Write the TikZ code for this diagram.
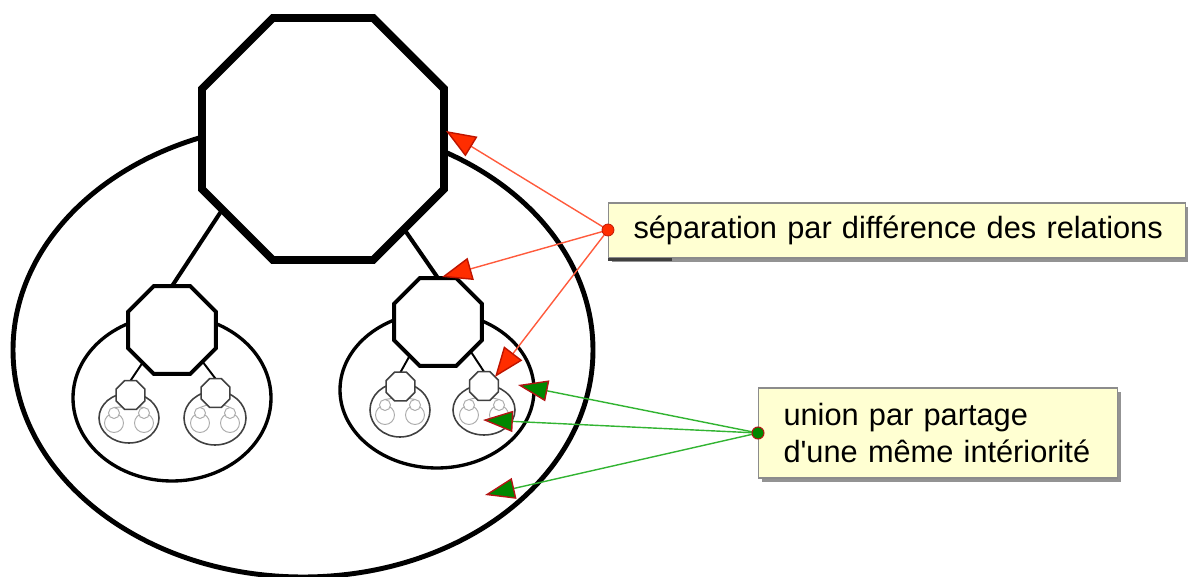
\documentclass[tikz,border=0pt]{standalone}
\usepackage{fontspec}
\setmainfont{Liberation Sans}
\usetikzlibrary{shapes.geometric,arrows.meta,shadows}
\newcommand\PX{0.02cm}
\definecolor{noteyellow}{RGB}{255,255,210}
\definecolor{noteborder}{RGB}{140,140,140}
\definecolor{redline}{RGB}{255,90,60}
\definecolor{redtip}{RGB}{255,45,0}
\definecolor{rededge}{RGB}{190,20,0}
\definecolor{greenline}{RGB}{50,180,50}
\definecolor{greentip}{RGB}{0,135,0}
\definecolor{greenedge}{RGB}{180,20,20}
\pgfdeclarelayer{bg}
\pgfsetlayers{bg,main}
\begin{document}
\begin{tikzpicture}[x=0.02cm,y=-0.02cm,
  oct/.style={regular polygon, regular polygon sides=8, draw, fill=white, inner sep=0pt, outer sep=0pt},
  octA/.style={oct, line width=4.5pt, minimum size=262*\PX},
  octB/.style={oct, line width=2.2pt, minimum size=95*\PX},
  octC/.style={oct, line width=0.9pt, draw=black!75, minimum size=31*\PX},
  ell/.style={ellipse, draw, inner sep=0pt, outer sep=0pt},
  ellA/.style={ell, line width=2.8pt, minimum width=580*\PX, minimum height=454*\PX},
  ellB/.style={ell, line width=1.9pt},
  ellC/.style={ell, line width=0.9pt, draw=black!75},
  tinyring/.style={circle, draw=gray!65, line width=0.55pt, fill=white, inner sep=0pt, outer sep=0pt, minimum size=19*\PX},
  tinycap/.style={tinyring, minimum size=11*\PX},
  linkA/.style={line width=2.3pt},
  linkB/.style={line width=1.1pt},
  linkC/.style={line width=0.55pt, draw=gray!70},
  note/.style={rectangle, draw=noteborder, fill=noteyellow, line width=0.6pt, align=left,
    inner xsep=25*\PX, inner ysep=0pt, font=\fontsize{17.5pt}{21pt}\selectfont,
    drop shadow={shadow xshift=2.2pt, shadow yshift=-2.2pt, fill=gray!85, opacity=1}},
  reddot/.style={circle, fill=redtip, draw=rededge, line width=0.4pt, minimum size=12*\PX, inner sep=0pt},
  greendot/.style={circle, fill=greentip, draw=greenedge, line width=0.6pt, minimum size=12*\PX, inner sep=0pt},
  redarrow/.style={draw=redline, line width=0.8pt, -{Triangle[length=17pt, width=13pt, color=rededge, fill=redtip]}},
  greenarrow/.style={draw=greenline, line width=0.8pt, -{Triangle[length=17pt, width=12pt, color=greenedge, fill=greentip]}}
]
\useasboundingbox (0,0) rectangle (1188,577);

% octagons (main layer, filled white)
\node[octA] (top) at (323,139) {};
\node[octB] (ml) at (172,330) {};
\node[octB] (mr) at (438,322) {};
\foreach \n/\ox/\oy/\ex/\ey in {la/130.5/395/129/418, lb/215.5/393/215/418, ra/400.5/386.5/400/410, rb/484/386/484/410} {
  \node[octC] (\n) at (\ox,\oy) {};
  \node[tinyring] (\n-l) at (\ex-15,\ey+5) {};
  \node[tinyring] (\n-r) at (\ex+15,\ey+5) {};
  \node[tinycap] (\n-lc) at (\ex-15,\ey-5) {};
  \node[tinycap] (\n-rc) at (\ex+15,\ey-5) {};
}

\begin{pgfonlayer}{bg}
  \node[ellA] (E1) at (303,350) {};
  \node[ellB, minimum width=198*\PX, minimum height=166*\PX] (Eml) at (172,398) {};
  \node[ellB, minimum width=194*\PX, minimum height=156*\PX] (Emr) at (437,390) {};
  \foreach \n/\ex/\ey/\ew/\eh in {la/129/418/60/50, lb/215/418/62/54, ra/400/410/60/54, rb/484/410/62/50} {
    \node[ellC, minimum width=\ew*\PX, minimum height=\eh*\PX] (\n-e) at (\ex,\ey) {};
    \draw[linkC] (\n.235) -- (\n-lc.north);
    \draw[linkC] (\n.305) -- (\n-rc.north);
  }
  \draw[linkA] (top.215) -- (ml.north);
  \draw[linkA] (top.312) -- (mr.north);
  \draw[linkB] (ml.228) -- (la.north);
  \draw[linkB] (ml.314) -- (lb.north);
  \draw[linkB] (mr.230) -- (ra.north);
  \draw[linkB] (mr.318) -- (rb.north);
\end{pgfonlayer}

% notes
\node[note, anchor=west, text width=527*\PX, minimum height=55*\PX] (sep) at (608,230.5)
  {\mbox{séparation par différence des relations}};
\fill[black!75] (608,258) rectangle (672,261.5);
\node[note, anchor=west, text width=309*\PX, minimum height=90*\PX] (uni) at (758,433)
  {\baselineskip=21pt union par partage\\d\textquotesingle une même intériorité};

% arrow targets
\coordinate (rdc) at (608,230);
\coordinate (gdc) at (758,433);
\coordinate (r1) at (446,131);
\coordinate (r2) at (442,277);
\coordinate (r3) at (495,377);
\coordinate (g1) at (518,385);
\coordinate (g2) at (483,420);
\coordinate (g3) at (485,495);

\draw[redarrow] (rdc) -- (r1);
\draw[redarrow] (rdc) -- (r2);
\draw[redarrow] (rdc) -- (r3);
\draw[greenarrow] (gdc) -- (g1);
\draw[greenarrow] (gdc) -- (g2);
\draw[greenarrow] (gdc) -- (g3);

\node[reddot] (rd) at (rdc) {};
\node[greendot] (gd) at (gdc) {};
\end{tikzpicture}
\end{document}
